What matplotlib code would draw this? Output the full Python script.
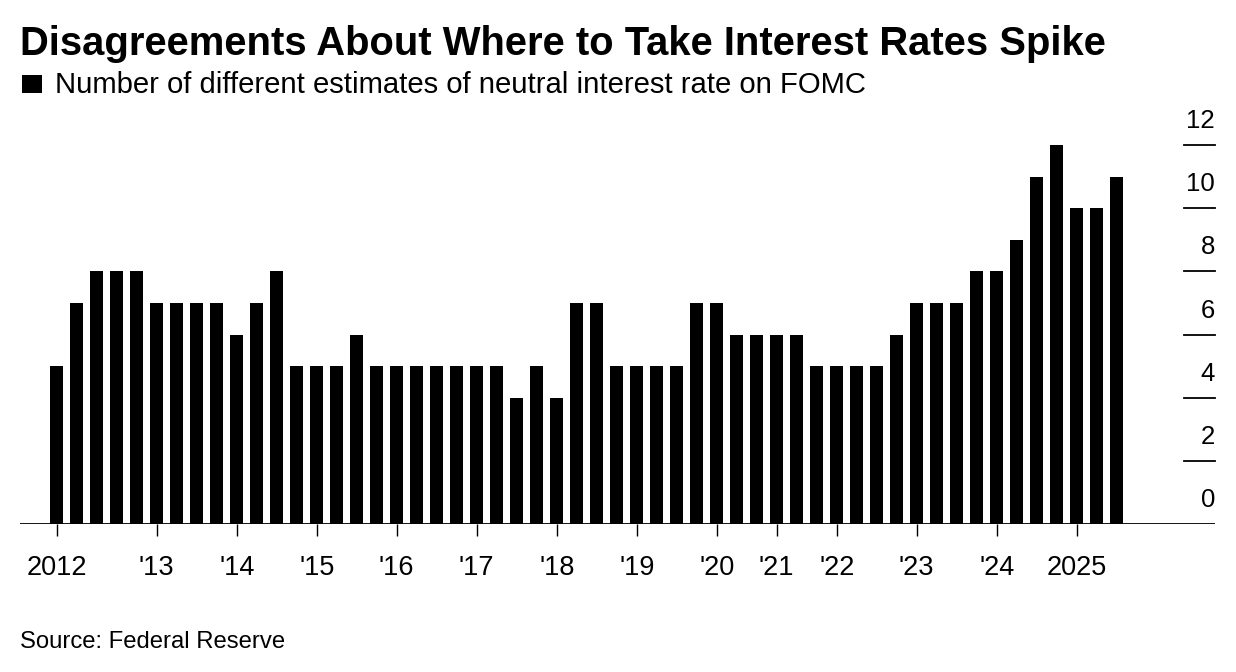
import matplotlib
matplotlib.use("Agg")
import matplotlib.pyplot as plt
import matplotlib.transforms as mtransforms
from matplotlib.patches import Rectangle
import numpy as np

# ---- data ----
years = ["2012", "'13", "'14", "'15", "'16", "'17", "'18", "'19", "'20", "'21", "'22", "'23", "'24", "2025"]
meetings_per_year = [5, 4, 4, 4, 4, 4, 4, 4, 3, 3, 4, 4, 4, 3]
estimates = [5, 7, 8, 8, 8,
             7, 7, 7, 7,
             6, 7, 8, 5,
             5, 5, 6, 5,
             5, 5, 5, 5,
             5, 5, 4, 5,
             4, 7, 7, 5,
             5, 5, 5, 7,
             7, 6, 6,
             6, 6, 5,
             5, 5, 5, 6,
             7, 7, 7, 8,
             8, 9, 11, 12,
             10, 10, 11]
y_ticks = [0, 2, 4, 6, 8, 10, 12]

title = "Disagreements About Where to Take Interest Rates Spike"
subtitle = "Number of different estimates of neutral interest rate on FOMC"
source = "Source: Federal Reserve"

# ---- figure ----
W, H = 1236, 672
fig = plt.figure(figsize=(W / 100, H / 100), dpi=100)
plt.rcParams['font.family'] = ['Liberation Sans', 'DejaVu Sans']

ax_left, ax_right, ax_bottom, ax_top = 20, 1215, 524, 145
ax = fig.add_axes([ax_left / W, (H - ax_bottom) / H, (ax_right - ax_left) / W, (ax_bottom - ax_top) / H])

idx = np.arange(len(estimates))
ax.bar(idx, estimates, width=0.67, color="black", zorder=2)

# x range: first bar center at px 56.7, spacing 20 px
x0_px, step = 56.7, 20.0
ax.set_xlim((ax_left - x0_px) / step, (ax_right - x0_px) / step)
ax.set_ylim(0, 12)

for s in ax.spines.values():
    s.set_visible(False)
ax.axhline(0, color="black", lw=1.3, zorder=3)

# x ticks at first meeting of each year
tick_pos = np.concatenate([[0], np.cumsum(meetings_per_year)[:-1]])
ax.set_xticks(tick_pos)
ax.set_xticklabels(years, fontsize=19.5)
ax.tick_params(axis="x", length=8.6, width=1.0, color="black", pad=13.5, direction="out")
ax.tick_params(axis="y", left=False, labelleft=False)

# right-side y labels with short tick lines
blend = mtransforms.blended_transform_factory(ax.transAxes, ax.transData)
lab_tr = blend + mtransforms.ScaledTranslation(0, 17 / 100, fig.dpi_scale_trans)
for v in y_ticks:
    ax.text(1.0, v, str(v), transform=lab_tr, ha="right", va="baseline", fontsize=18.5, color="black")
    if v != 0:
        ax.plot([0.974, 1.0], [v, v], transform=blend, color="black", lw=1.3, clip_on=False)

# titles
fig.text(20 / W, (H - 55) / H, title, fontsize=28.8, fontweight="bold", ha="left", va="baseline")
fig.patches.append(Rectangle((22 / W, (H - 93) / H), 20 / W, 18 / H, transform=fig.transFigure,
                             facecolor="black", edgecolor="none"))
fig.text(55 / W, (H - 93) / H, subtitle, fontsize=21.1, ha="left", va="baseline")
fig.text(20 / W, (H - 648) / H, source, fontsize=17.2, ha="left", va="baseline")

fig.savefig("out.png", dpi=100)
